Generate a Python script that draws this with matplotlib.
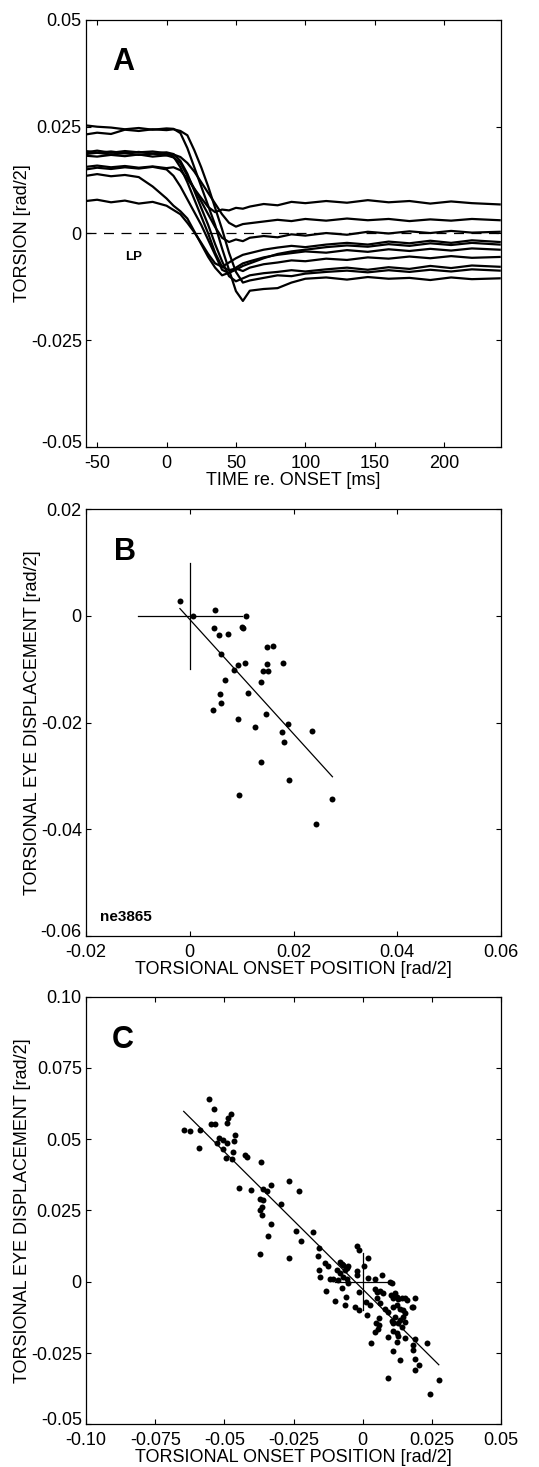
import numpy as np
import matplotlib
matplotlib.use('Agg')
from matplotlib import pyplot as plt
from matplotlib.ticker import FixedLocator, FixedFormatter
from matplotlib.transforms import ScaledTranslation

plt.rcParams['font.family'] = ['Liberation Sans', 'DejaVu Sans']

# ---- panel A: torsion traces (values in 1e-3 rad/2) ----
t_ms = [-58, -50, -40, -30, -20, -10, 0, 5, 10, 15, 20, 25, 30, 35, 40, 45,
        50, 55, 60, 70, 80, 90, 100, 115, 130, 145, 160, 175, 190, 205, 220, 240]

trace1 = [25.3, 25.0, 24.8, 24.4, 24.7, 24.3, 24.6, 24.5, 23.5, 20.0, 15.5, 11.0, 6.5, 2.0, -3.5, -8.5,
          -13.5, -15.8, -13.4, -13.0, -12.8, -11.5, -10.6, -10.3, -10.8, -10.2, -10.6, -10.4, -10.9, -10.3, -10.7, -10.5]
trace2 = [23.2, 23.6, 23.3, 24.3, 24.0, 24.4, 24.2, 24.4, 24.0, 23.0, 19.5, 15.5, 11.0, 6.0, 1.0, -4.5,
          -9.0, -11.5, -11.0, -10.4, -9.8, -10.0, -9.4, -9.0, -8.7, -9.1, -8.6, -9.0, -8.5, -8.9, -8.4, -8.7]
trace3 = [19.0, 19.4, 18.9, 19.3, 19.0, 19.2, 18.8, 18.0, 15.5, 12.0, 8.0, 4.0, 0.0, -4.5, -7.8, -8.6,
          -8.2, -8.8, -8.0, -7.2, -6.8, -6.3, -6.5, -5.9, -6.2, -5.6, -5.9, -5.4, -5.8, -5.3, -5.7, -5.5]
trace4 = [18.6, 18.9, 18.5, 18.8, 18.4, 18.7, 18.3, 18.5, 17.9, 16.5, 14.5, 12.0, 9.5, 7.0, 4.5, 2.5,
          1.6, 2.2, 2.4, 2.8, 3.2, 2.9, 3.4, 3.0, 3.5, 3.1, 3.4, 2.9, 3.3, 3.0, 3.4, 3.1]
trace5 = [18.2, 18.0, 18.4, 18.1, 18.5, 18.0, 18.3, 17.8, 16.5, 13.5, 10.5, 7.5, 4.5, 1.5, -1.0, -2.0,
          -1.4, -1.8, -1.0, -0.6, -0.9, -0.2, -0.5, 0.1, -0.3, 0.4, 0.0, 0.5, 0.1, 0.6, 0.2, 0.4]
trace6 = [15.6, 15.9, 15.5, 15.8, 15.4, 15.7, 15.3, 15.5, 14.8, 12.8, 10.5, 8.3, 6.2, 5.0, 5.6, 5.4,
          6.0, 5.8, 6.3, 6.9, 6.6, 7.4, 7.1, 7.6, 7.2, 7.8, 7.3, 7.6, 7.0, 7.5, 7.1, 6.8]
trace7 = [15.0, 15.4, 15.1, 15.5, 15.2, 15.6, 15.0, 13.5, 11.0, 8.0, 5.0, 2.0, -1.5, -5.0, -8.5, -9.3,
          -8.0, -7.0, -6.5, -5.6, -5.0, -4.6, -4.2, -4.5, -3.9, -4.3, -3.7, -4.1, -3.6, -4.0, -3.5, -3.8]
trace8 = [13.5, 13.9, 13.4, 13.7, 13.2, 11.0, 8.2, 6.5, 5.2, 3.5, 0.5, -2.5, -5.5, -8.0, -9.8, -9.2,
          -8.5, -7.6, -7.0, -5.8, -4.8, -4.2, -3.8, -3.2, -2.8, -3.1, -2.5, -2.9, -2.3, -2.7, -2.2, -2.6]
trace9 = [7.6, 7.9, 7.3, 7.7, 7.0, 7.4, 6.5, 5.5, 4.5, 2.5, 0.3, -2.2, -4.8, -7.0, -7.8, -6.8,
          -5.8, -5.0, -4.6, -3.8, -3.3, -2.9, -3.2, -2.6, -2.2, -2.6, -1.9, -2.3, -1.7, -2.2, -1.6, -2.0]
trace10 = [19.3, 18.9, 19.2, 18.8, 19.1, 18.7, 19.0, 18.6, 17.0, 14.0, 10.0, 6.0, 2.0, -2.5, -6.5, -10.0,
           -11.2, -10.5, -9.8, -9.3, -9.0, -8.6, -8.9, -8.4, -8.0, -8.5, -7.9, -8.3, -7.6, -8.1, -7.5, -7.8]
traces = [trace1, trace2, trace3, trace4, trace5, trace6, trace7, trace8, trace9, trace10]

# ---- panel B: single animal ne3865 ----
b_onset = [-0.0019, 0.0007, 0.0048, 0.0108, 0.0047, 0.0101, 0.0102, 0.0056, 0.0074, 0.0061,
           0.0149, 0.0161, 0.0093, 0.0107, 0.0148, 0.0180, 0.0085, 0.0141, 0.0151, 0.0068,
           0.0137, 0.0112, 0.0058, 0.0060, 0.0045, 0.0146, 0.0093, 0.0190, 0.0126, 0.0236,
           0.0178, 0.0182, 0.0138, 0.0192, 0.0095, 0.0275, 0.0244]
b_disp = [0.0027, 0.0000, 0.0011, -0.0001, -0.0023, -0.0020, -0.0023, -0.0036, -0.0034, -0.0071,
          -0.0059, -0.0056, -0.0092, -0.0089, -0.0090, -0.0088, -0.0101, -0.0103, -0.0104, -0.0121,
          -0.0124, -0.0144, -0.0147, -0.0164, -0.0176, -0.0184, -0.0193, -0.0202, -0.0209, -0.0216,
          -0.0218, -0.0237, -0.0274, -0.0308, -0.0335, -0.0344, -0.0391]

# ---- panel C: all animals ----
c_onset = [-0.0557, -0.0536, -0.0549, -0.0534, -0.0476, -0.0486, -0.0490, -0.0647, -0.0625, -0.0588,
           -0.0520, -0.0504, -0.0461, -0.0464, -0.0528, -0.0492, -0.0592, -0.0504, -0.0494, -0.0470,
           -0.0471, -0.0425, -0.0418, -0.0369, -0.0448, -0.0404, -0.0360, -0.0345, -0.0333, -0.0267,
           -0.0231, -0.0295, -0.0370, -0.0359, -0.0373, -0.0364, -0.0363, -0.0333, -0.0341, -0.0372,
           -0.0266, -0.0242, -0.0223, -0.0181, -0.0159, -0.0160, -0.0159, -0.0153, -0.0133, -0.0136,
           -0.0127, -0.0118, -0.0100, -0.0106, -0.0090, -0.0082, -0.0076, -0.0070, -0.0058, -0.0052,
           -0.0064, -0.0082, -0.0070, -0.0076, -0.0060, -0.0064, -0.0052, -0.0058, -0.0092, -0.0022,
           -0.0012, -0.0022, -0.0022, -0.0028, -0.0012, -0.0012, 0.0005, 0.0020, 0.0020, 0.0012,
           0.0014, 0.0027, 0.0029, 0.0045, 0.0069, 0.0045, 0.0053, 0.0063, 0.0075, 0.0051,
           0.0063, 0.0060, 0.0048, 0.0055, 0.0045, 0.0060, 0.0081, 0.0093, 0.0099, 0.0105,
           0.0101, 0.0111, 0.0117, 0.0123, 0.0129, 0.0141, 0.0153, 0.0161, 0.0188, 0.0183,
           0.0177, 0.0111, 0.0123, 0.0135, 0.0145, 0.0153, 0.0147, 0.0135, 0.0117, 0.0105,
           0.0111, 0.0129, 0.0153, 0.0141, 0.0111, 0.0093, 0.0123, 0.0129, 0.0153, 0.0123,
           0.0189, 0.0183, 0.0181, 0.0189, 0.0205, 0.0189, 0.0234, 0.0135, 0.0111, 0.0093,
           0.0275, 0.0243]
c_disp = [0.0641, 0.0605, 0.0553, 0.0553, 0.0588, 0.0576, 0.0558, 0.0534, 0.0530, 0.0532,
          0.0506, 0.0499, 0.0514, 0.0495, 0.0488, 0.0485, 0.0468, 0.0465, 0.0433, 0.0456,
          0.0429, 0.0444, 0.0438, 0.0419, 0.0329, 0.0322, 0.0324, 0.0319, 0.0341, 0.0354,
          0.0319, 0.0272, 0.0291, 0.0286, 0.0251, 0.0263, 0.0233, 0.0201, 0.0160, 0.0096,
          0.0085, 0.0177, 0.0144, 0.0173, 0.0119, 0.0090, 0.0043, 0.0015, -0.0034, 0.0067,
          0.0055, 0.0008, -0.0068, 0.0008, 0.0006, 0.0070, 0.0064, 0.0058, 0.0050, 0.0055,
          0.0043, 0.0029, 0.0018, -0.0023, -0.0053, -0.0080, -0.0006, 0.0008, 0.0041, 0.0125,
          0.0113, 0.0039, 0.0023, -0.0090, -0.0099, -0.0035, 0.0055, 0.0012, 0.0084, -0.0070,
          -0.0117, -0.0082, -0.0216, 0.0008, 0.0023, -0.0027, -0.0035, -0.0032, -0.0039, -0.0058,
          -0.0076, -0.0126, -0.0146, -0.0164, -0.0175, -0.0150, -0.0094, -0.0105, 0.0000, -0.0006,
          -0.0047, -0.0058, -0.0041, -0.0053, -0.0062, -0.0058, -0.0058, -0.0064, -0.0058, -0.0088,
          -0.0090, -0.0090, -0.0082, -0.0094, -0.0099, -0.0111, -0.0125, -0.0134, -0.0123, -0.0137,
          -0.0146, -0.0146, -0.0140, -0.0158, -0.0172, -0.0193, -0.0181, -0.0189, -0.0199, -0.0211,
          -0.0202, -0.0222, -0.0240, -0.0272, -0.0292, -0.0310, -0.0216, -0.0275, -0.0242, -0.0336,
          -0.0345, -0.0392]

cross_half = 0.01

FS = 13


def style_axes(ax):
    for sp in ax.spines.values():
        sp.set_linewidth(0.9)
    ax.tick_params(direction='in', top=True, right=True, length=3.5, width=0.8,
                   labelsize=FS)
    ax.tick_params(axis='x', pad=5.5)
    ax.tick_params(axis='y', pad=3)


def set_ticks(ax, xt, xl, yt, yl):
    ax.xaxis.set_major_locator(FixedLocator(xt))
    ax.xaxis.set_major_formatter(FixedFormatter(xl))
    ax.yaxis.set_major_locator(FixedLocator(yt))
    ax.yaxis.set_major_formatter(FixedFormatter(yl))


def lift_bottom_label(fig, ax):
    # lowest y tick label sits a bit above the corner, as in the original
    lab = ax.yaxis.get_major_ticks()[0].label1
    lab.set_transform(lab.get_transform() + ScaledTranslation(0, 4 / 72, fig.dpi_scale_trans))


def scatter_panel(ax, x, y):
    x = np.asarray(x)
    y = np.asarray(y)
    ax.plot(x, y, 'o', color='black', markersize=4.3, markeredgewidth=0)
    p = np.polyfit(x, y, 1)
    xs = np.array([x.min(), x.max()])
    ax.plot(xs, np.polyval(p, xs), color='black', lw=0.9)
    ax.plot([-cross_half, cross_half], [0, 0], color='black', lw=0.9)
    ax.plot([0, 0], [-cross_half, cross_half], color='black', lw=0.9)


def main():
    fig = plt.figure(figsize=(5.39, 14.67), dpi=100)

    # panel A
    axA = fig.add_axes([0.1596, 0.6953, 0.770, 0.2911])
    style_axes(axA)
    for tr in traces:
        axA.plot(t_ms, np.array(tr) / 1000.0, color='black', lw=1.6)
    axA.axhline(0, color='black', lw=0.9, ls=(0, (8, 6)))
    axA.set_xlim(-58, 241)
    axA.set_ylim(-0.05, 0.05)
    set_ticks(axA, [-50, 0, 50, 100, 150, 200], ['-50', '0', '50', '100', '150', '200'],
              [-0.05, -0.025, 0, 0.025, 0.05], ['-0.05', '-0.025', '0', '0.025', '0.05'])
    axA.set_xlabel('TIME re. ONSET [ms]', fontsize=FS, labelpad=0)
    axA.set_ylabel('TORSION [rad/2]', fontsize=FS, labelpad=0)
    axA.text(0.063, 0.882, 'A', transform=axA.transAxes, fontsize=22, fontweight='bold')
    axA.text(-24, -0.0055, 'LP', fontsize=9.5, fontweight='bold', ha='center', va='center')

    # panel B
    axB = fig.add_axes([0.1596, 0.3620, 0.770, 0.2909])
    style_axes(axB)
    scatter_panel(axB, b_onset, b_disp)
    axB.set_xlim(-0.02, 0.06)
    axB.set_ylim(-0.06, 0.02)
    set_ticks(axB, [-0.02, 0, 0.02, 0.04, 0.06], ['-0.02', '0', '0.02', '0.04', '0.06'],
              [-0.06, -0.04, -0.02, 0, 0.02], ['-0.06', '-0.04', '-0.02', '0', '0.02'])
    axB.set_xlabel('TORSIONAL ONSET POSITION [rad/2]', fontsize=FS, labelpad=0)
    axB.set_ylabel('TORSIONAL EYE DISPLACEMENT [rad/2]', fontsize=FS, labelpad=0)
    axB.text(0.068, 0.881, 'B', transform=axB.transAxes, fontsize=22, fontweight='bold')
    axB.text(0.034, 0.034, 'ne3865', transform=axB.transAxes, fontsize=11, fontweight='bold')

    # panel C
    axC = fig.add_axes([0.1596, 0.0291, 0.770, 0.2915])
    style_axes(axC)
    scatter_panel(axC, c_onset, c_disp)
    axC.set_xlim(-0.1, 0.05)
    axC.set_ylim(-0.05, 0.1)
    set_ticks(axC, [-0.1, -0.075, -0.05, -0.025, 0, 0.025, 0.05],
              ['-0.10', '-0.075', '-0.05', '-0.025', '0', '0.025', '0.05'],
              [-0.05, -0.025, 0, 0.025, 0.05, 0.075, 0.1],
              ['-0.05', '-0.025', '0', '0.025', '0.05', '0.075', '0.10'])
    axC.set_xlabel('TORSIONAL ONSET POSITION [rad/2]', fontsize=FS, labelpad=0)
    axC.set_ylabel('TORSIONAL EYE DISPLACEMENT [rad/2]', fontsize=FS, labelpad=0)
    axC.text(0.063, 0.880, 'C', transform=axC.transAxes, fontsize=22, fontweight='bold')

    for ax in (axA, axB, axC):
        lift_bottom_label(fig, ax)

    fig.savefig('out.png', dpi=100)


if __name__ == '__main__':
    main()
